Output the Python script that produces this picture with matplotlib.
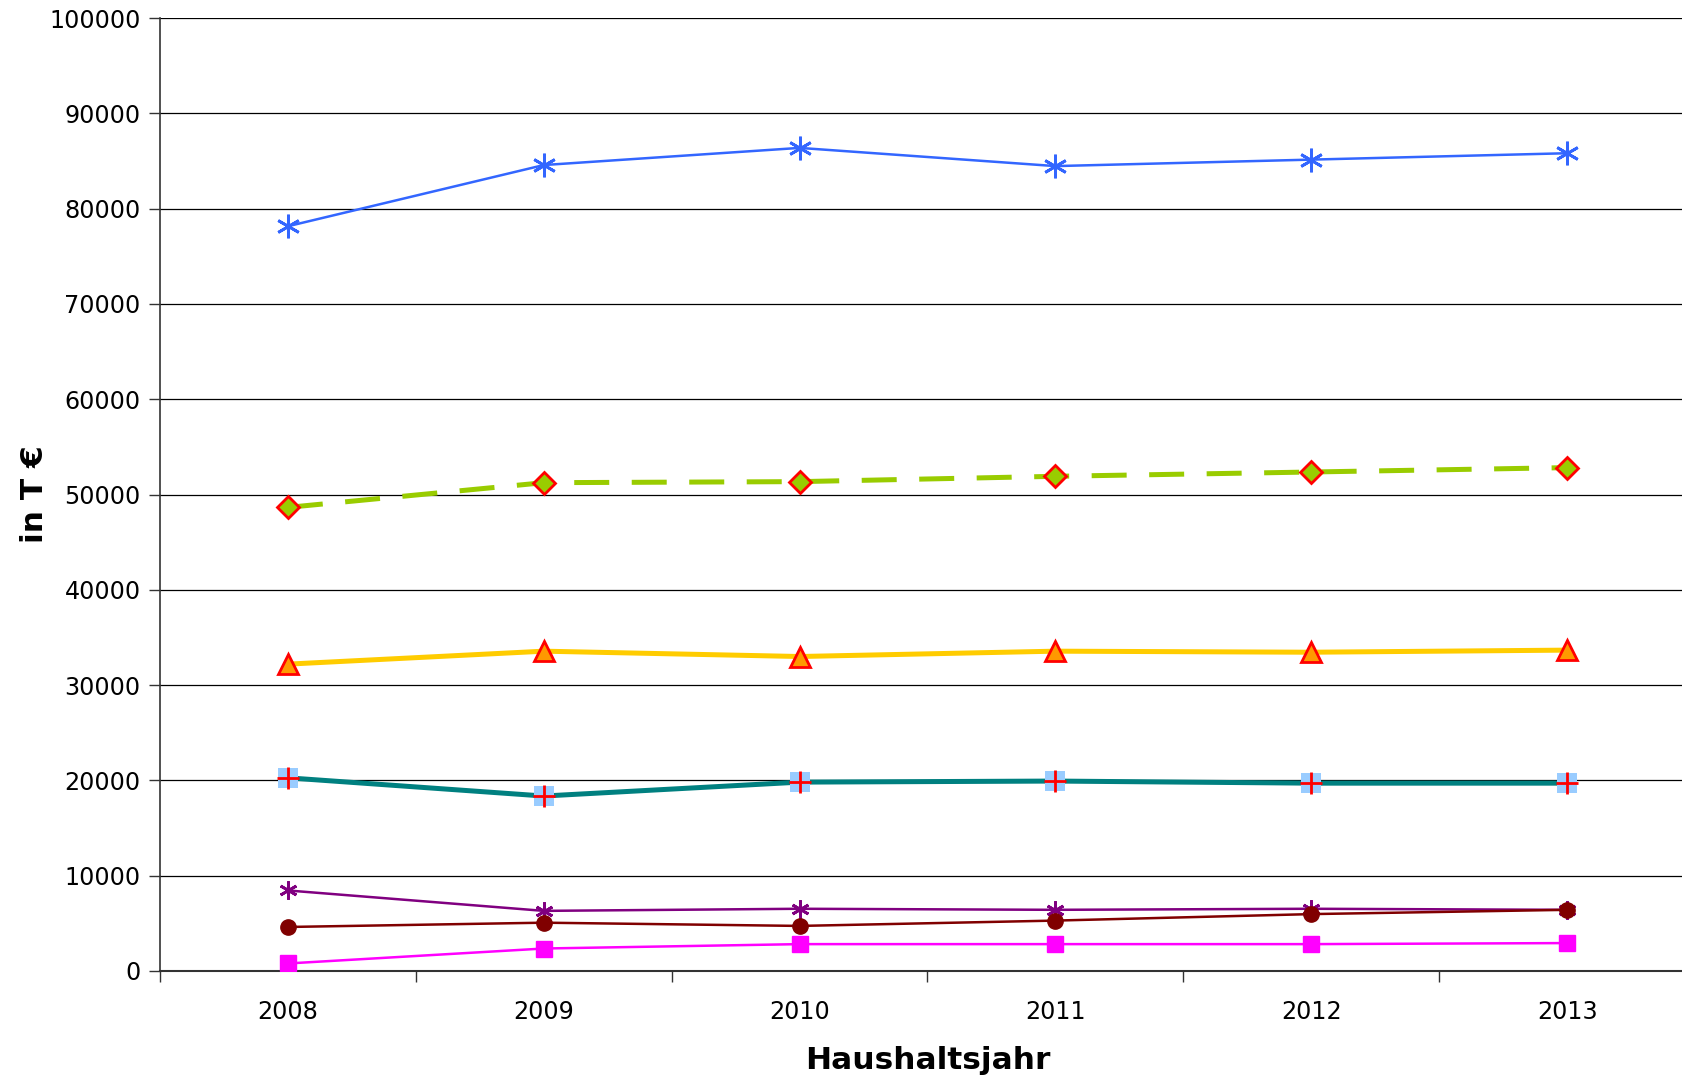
import matplotlib
matplotlib.use("Agg")
import matplotlib.pyplot as plt
from matplotlib.ticker import FixedLocator, NullFormatter

years = ["2008", "2009", "2010", "2011", "2012", "2013"]
blue_star = [78150, 84570, 86370, 84460, 85140, 85810]
green_diamond = [48650, 51240, 51350, 51910, 52360, 52820]
yellow_triangle = [32200, 33560, 33000, 33560, 33450, 33670]
teal_square = [20270, 18360, 19820, 19930, 19710, 19710]
purple_star = [8450, 6310, 6530, 6420, 6530, 6420]
darkred_circle = [4620, 5070, 4730, 5290, 5970, 6420]
magenta_square = [790, 2360, 2820, 2820, 2820, 2930]
y_ticks = [0, 10000, 20000, 30000, 40000, 50000, 60000, 70000, 80000, 90000, 100000]

W, H = 1682, 1081
fig = plt.figure(figsize=(W / 100, H / 100), dpi=100)
left, right = 160 / W, 1695 / W
bottom, top = 1 - 971 / H, 1 - 18 / H
ax = fig.add_axes([left, bottom, right - left, top - bottom])

x = list(range(len(years)))
asterisk = (6, 2, 0)

ax.plot(x, blue_star, color="#3366FF", lw=1.8, marker=asterisk, ms=17,
        mec="#3366FF", mew=2.0, zorder=5)
ax.plot(x, green_diamond, color="#99CC00", lw=3.6, ls=(0, (7, 4.5)),
        marker="D", ms=11.5, mfc="#99CC00", mec="#FF0000", mew=2.0, zorder=5)
ax.plot(x, yellow_triangle, color="#FFCC00", lw=3.6, marker="^", ms=15,
        mfc="#FF9900", mec="#FF0000", mew=2.0, zorder=5)
ax.plot(x, teal_square, color="#008080", lw=3.6, marker="s", ms=14,
        mfc="#99CCFF", mec="#99CCFF", mew=0, zorder=5)
ax.plot(x, teal_square, ls="none", marker="+", ms=16, mec="#FF0000",
        mew=2.0, zorder=6)
ax.plot(x, purple_star, color="#800080", lw=1.8, marker=asterisk, ms=13,
        mec="#800080", mew=2.0, zorder=5)
ax.plot(x, darkred_circle, color="#800000", lw=1.8, marker="o", ms=11,
        mfc="#800000", mec="#800000", zorder=6)
ax.plot(x, magenta_square, color="#FF00FF", lw=1.8, marker="s", ms=11,
        mfc="#FF00FF", mec="#FF00FF", zorder=6)

ax.set_xlim(-0.5, len(years) - 0.5)
ax.set_ylim(0, 100000)
ax.set_yticks(y_ticks)
ax.set_yticklabels([str(v) for v in y_ticks])
ax.yaxis.grid(True, color="black", lw=0.9)
ax.set_axisbelow(True)

ax.set_xticks(x)
ax.set_xticklabels(years)
ax.tick_params(axis="x", which="major", length=0, pad=21)
ax.xaxis.set_minor_locator(FixedLocator([i + 0.5 for i in range(-1, len(years))]))
ax.xaxis.set_minor_formatter(NullFormatter())
ax.tick_params(axis="x", which="minor", length=8, width=1, color="#333333")
ax.tick_params(axis="y", length=8, width=1, color="#333333", pad=6)
ax.tick_params(labelsize=17.2)

for s in ["top", "right"]:
    ax.spines[s].set_visible(False)
ax.spines["left"].set_color("#333333")
ax.spines["bottom"].set_color("#333333")
ax.spines["bottom"].set_linewidth(1.5)
ax.spines["left"].set_linewidth(1.2)

ax.set_xlabel("Haushaltsjahr", fontsize=22.5, fontweight="bold", labelpad=16)
ax.set_ylabel("in T €", fontsize=22.5, fontweight="bold")
ax.yaxis.set_label_coords(-0.072, 0.5)

fig.savefig("out.png", dpi=100)
